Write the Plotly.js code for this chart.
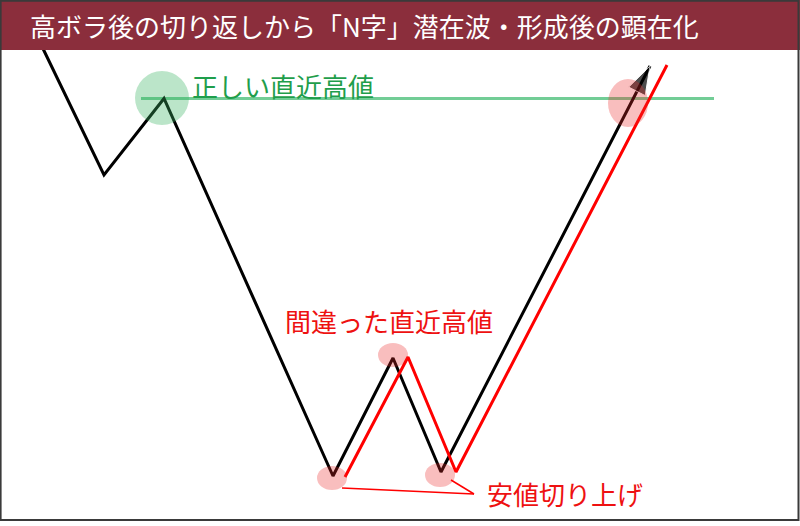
<!DOCTYPE html>
<html>
<head>
<meta charset="utf-8">
<script src="https://cdn.plot.ly/plotly-3.0.1.min.js"></script>
<style>
  html, body { margin: 0; padding: 0; background: #fff; }
  #plot { width: 800px; height: 526px; }
</style>
</head>
<body>
<div id="plot"></div>
<script>
// price path in chart units (x = time, y = price)
var blackX = [6.8, 20.8, 32.8, 66.6, 78.6, 88.2, 130.0];
var blackY = [99.2, 70.2, 85.5, 10.0, 33.6, 10.8, 92.0];

var redX = [69.0, 81.6, 91.2, 133.4];
var redY = [9.8, 33.8, 10.8, 92.2];

var levelX = [28.2, 142.8];
var levelY = [85.5, 85.5];

// highlighted points
var goodHighX = [32.4], goodHighY = [85.6];
var pinkX = [66.4, 78.6, 88.0], pinkY = [9.6, 34.2, 10.2];
var breakX = [125.6], breakY = [84.6];

// pointer lines to the "安値切り上げ" label
var pointerFromX = [68.4, 90.2], pointerFromY = [7.6, 9.2];
var pointerTo = [94.8, 6.4];

var titleText = '高ボラ後の切り返しから「N字」潜在波・形成後の顕在化';
var font = '"Noto Sans CJK JP", "Noto Sans", sans-serif';

var arrowSize = blackX.map(function(v, i) { return i === blackX.length - 1 ? 30 : 0; });

var traces = [
  {
    x: levelX, y: levelY, mode: 'lines',
    line: {color: '#72cd96', width: 3}, hoverinfo: 'skip'
  },
  {
    x: blackX, y: blackY, mode: 'lines+markers',
    line: {color: '#000', width: 3},
    marker: {symbol: 'arrow', angleref: 'previous', size: arrowSize, color: '#000'},
    hoverinfo: 'skip'
  },
  {
    x: redX, y: redY, mode: 'lines',
    line: {color: '#ff0000', width: 3}, hoverinfo: 'skip'
  }
];

function ellipse(cx, cy, rx, ry, fill) {
  return {type: 'circle', xref: 'x', yref: 'y', layer: 'above',
    x0: cx - rx, x1: cx + rx, y0: cy - ry, y1: cy + ry,
    fillcolor: fill, line: {width: 0}};
}

var shapes = [];
goodHighX.forEach(function(x, i) { shapes.push(ellipse(x, goodHighY[i], 5.4, 5.4, 'rgba(60,180,100,0.35)')); });
pinkX.forEach(function(x, i) { shapes.push(ellipse(x, pinkY[i], 3.0, 2.4, 'rgba(235,40,40,0.3)')); });
breakX.forEach(function(x, i) { shapes.push(ellipse(x, breakY[i], 4.0, 4.8, 'rgba(235,40,40,0.3)')); });
pointerFromX.forEach(function(x, i) {
  shapes.push({type: 'line', xref: 'x', yref: 'y', x0: x, y0: pointerFromY[i],
    x1: pointerTo[0], y1: pointerTo[1], line: {color: '#ff0000', width: 1.5}});
});
// title bar and frame
shapes.push({type: 'rect', xref: 'paper', yref: 'paper', layer: 'above',
  x0: 0, x1: 1, y0: 1 - 50 / 526, y1: 1, fillcolor: '#8b2e3c', line: {width: 0}});
shapes.push({type: 'rect', xref: 'paper', yref: 'paper', layer: 'above',
  x0: 0.6 / 800, x1: 798.5 / 800, y0: 1 - 520 / 526, y1: 1 - 0.8 / 526,
  fillcolor: 'rgba(0,0,0,0)', line: {color: '#3a3a3a', width: 2}});

var annotations = [
  {text: titleText, xref: 'paper', yref: 'paper', x: 28 / 800, y: 1 - 26 / 526,
    xanchor: 'left', yanchor: 'middle', showarrow: false,
    font: {family: font, size: 26, color: '#fff'}},
  {text: '正しい直近高値', xref: 'x', yref: 'y', x: 38, y: 88.2,
    xanchor: 'left', yanchor: 'middle', showarrow: false,
    font: {family: font, size: 26, color: '#1f9e4b'}},
  {text: '間違った直近高値', xref: 'x', yref: 'y', x: 56.6, y: 41.2,
    xanchor: 'left', yanchor: 'middle', showarrow: false,
    font: {family: font, size: 26, color: '#ee1111'}},
  {text: '安値切り上げ', xref: 'x', yref: 'y', x: 97, y: 6.6,
    xanchor: 'left', yanchor: 'middle', showarrow: false,
    font: {family: font, size: 26, color: '#ee1111'}}
];

var layout = {
  width: 800, height: 526,
  margin: {l: 0, r: 0, t: 0, b: 0},
  paper_bgcolor: '#fff', plot_bgcolor: '#fff',
  showlegend: false,
  xaxis: {range: [0, 160], visible: false, fixedrange: true},
  yaxis: {range: [0, 105.2], visible: false, fixedrange: true},
  shapes: shapes,
  annotations: annotations
};

Plotly.newPlot('plot', traces, layout, {staticPlot: true, displayModeBar: false});
</script>
</body>
</html>
